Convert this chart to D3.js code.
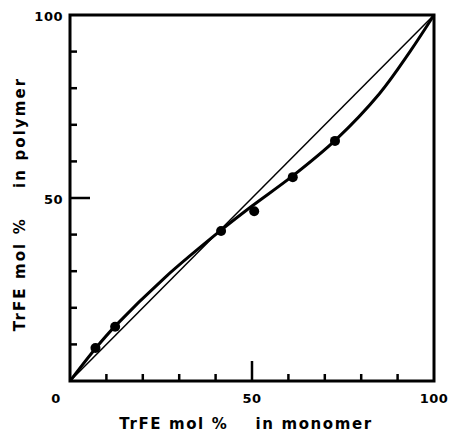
<!DOCTYPE html>
<html><head><meta charset="utf-8">
<script src="https://cdn.jsdelivr.net/npm/d3@7"></script>
<style>body{margin:0;background:#fff}svg{display:block}text{font-family:"DejaVu Sans",Verdana,sans-serif;font-weight:bold;fill:#000}</style>
</head><body>
<script>
const xTicks = [0, 50, 100];
const yTicks = [50, 100];
const minorTicks = [10, 20, 30, 40, 60, 70, 80, 90];
const majorTicks = [50];
const monomer = [7, 12.4, 41.5, 50.6, 61.2, 72.8];
const polymer = [9.0, 14.8, 41.0, 46.4, 55.7, 65.6];
const curveX = [0, 7, 12.4, 26, 41.5, 50, 61, 73, 85, 93.4, 100];
const curveY = [0, 8.9, 15, 28.2, 41.2, 47.8, 55.9, 65.9, 78.5, 90, 100];

const W = 450, H = 432;
const m = {l: 70, r: 16, t: 15, b: 51};
const svg = d3.select("body").append("svg").attr("width", W).attr("height", H);
const x = d3.scaleLinear().domain([0, 100]).range([m.l, W - m.r]);
const y = d3.scaleLinear().domain([0, 100]).range([H - m.b, m.t]);

// diagonal
svg.append("line").attr("x1", x(0)).attr("y1", y(0)).attr("x2", x(100)).attr("y2", y(100))
  .attr("stroke", "#000").attr("stroke-width", 1.5);

// curve
const pts = curveX.map((v, i) => [v, curveY[i]]);
svg.append("path").datum(pts)
  .attr("d", d3.line().x(d => x(d[0])).y(d => y(d[1])).curve(d3.curveCatmullRom.alpha(0.5)))
  .attr("fill", "none").attr("stroke", "#000").attr("stroke-width", 3);

// dots
svg.selectAll("circle.pt").data(monomer).join("circle").attr("class", "pt")
  .attr("cx", d => x(d)).attr("cy", (d, i) => y(polymer[i])).attr("r", 5).attr("fill", "#000");

// frame
svg.append("rect").attr("x", x(0)).attr("y", y(100)).attr("width", x(100) - x(0)).attr("height", y(0) - y(100))
  .attr("fill", "none").attr("stroke", "#000").attr("stroke-width", 3);

// inward ticks
const tickG = svg.append("g").attr("stroke", "#000");
tickG.selectAll("line.xm").data(minorTicks).join("line").attr("class", "xm")
  .attr("x1", d => x(d)).attr("x2", d => x(d)).attr("y1", y(0)).attr("y2", y(0) - 7).attr("stroke-width", 2.5);
tickG.selectAll("line.ym").data(minorTicks).join("line").attr("class", "ym")
  .attr("y1", d => y(d)).attr("y2", d => y(d)).attr("x1", x(0)).attr("x2", x(0) + 7).attr("stroke-width", 2.5);
tickG.selectAll("line.xM").data(majorTicks).join("line").attr("class", "xM")
  .attr("x1", d => x(d)).attr("x2", d => x(d)).attr("y1", y(0)).attr("y2", y(0) - 20).attr("stroke-width", 2.5);
tickG.selectAll("line.yM").data(majorTicks).join("line").attr("class", "yM")
  .attr("y1", d => y(d)).attr("y2", d => y(d)).attr("x1", x(0)).attr("x2", x(0) + 20).attr("stroke-width", 2.5);

// tick labels
svg.selectAll("text.xl").data(xTicks).join("text").attr("class", "xl")
  .attr("x", d => d === 0 ? 56 : x(d)).attr("y", 403).attr("text-anchor", "middle")
  .attr("font-size", 13).style("letter-spacing", "0.5px").text(d => d);
svg.selectAll("text.yl").data(yTicks).join("text").attr("class", "yl")
  .attr("x", 63).attr("y", d => y(d) + 5.5).attr("text-anchor", "end")
  .attr("font-size", 13).style("letter-spacing", "0.5px").text(d => d);

// titles
svg.append("text").attr("x", 246).attr("y", 429).attr("text-anchor", "middle")
  .attr("font-size", 15).style("letter-spacing", "1.6px").attr("xml:space", "preserve")
  .text("TrFE mol %    in monomer");
svg.append("text").attr("transform", `translate(25,204) rotate(-90)`).attr("text-anchor", "middle")
  .attr("font-size", 15).style("letter-spacing", "2.1px").attr("xml:space", "preserve")
  .text("TrFE mol %    in polymer");
</script>
</body></html>
